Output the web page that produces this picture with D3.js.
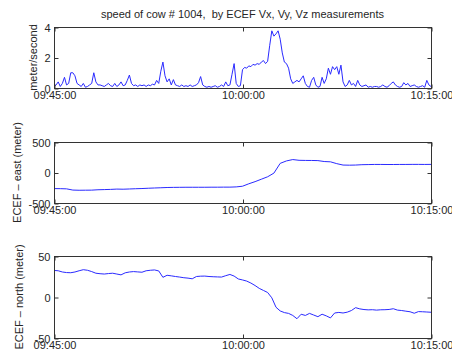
<!DOCTYPE html>
<html><head><meta charset="utf-8">
<script src="https://cdn.jsdelivr.net/npm/d3@7"></script>
<style>body{margin:0;background:#fff}svg{display:block}text{font-family:"Liberation Sans",Arial,sans-serif}</style>
</head><body><svg id="c" width="452" height="356"></svg>
<script>
const chartTitle = "speed of cow # 1004,  by ECEF Vx, Vy, Vz measurements";
const timeTickLabels = ["09:45:00", "10:00:00", "10:15:00"];
const timeTickSeconds = [0, 900, 1800];

// speed (m/s), one sample every 10 s
const speedStep = 10;
const speed = [
  0.1,0.2,0.4,0.1,0.3,0.7,0.2,0.3,1.0,1.0,
  0.8,0.3,0.2,0.1,0.3,0.05,0.1,0.2,0.3,1.0,
  0.4,0.2,0.2,0.15,0.1,0.2,0.3,0.15,0.1,0.3,
  0.1,0.2,0.4,0.15,0.2,0.5,0.85,0.3,0.15,0.2,
  0.1,0.2,0.15,0.2,0.1,0.2,0.15,0.25,0.2,0.5,
  0.3,1.1,1.7,0.8,0.4,0.6,0.2,0.55,0.2,0.15,
  0.1,0.2,0.1,0.15,0.1,0.2,0.1,0.15,0.2,0.35,
  0.75,0.2,0.1,0.05,0.1,0.05,0.1,0.15,0.05,0.1,
  0.2,0.1,0.4,0.15,0.2,0.9,1.6,0.3,0.1,0.15,
  1.2,1.35,1.3,1.45,1.4,1.55,1.5,1.6,1.55,1.7,
  1.8,1.6,1.75,2.8,3.75,3.4,3.55,3.75,3.2,2.3,
  1.7,1.6,1.3,0.6,0.3,0.4,0.5,0.4,0.6,0.8,
  0.3,0.1,0.05,0.5,0.7,0.2,0.05,0.1,0.7,0.3,
  0.6,1.3,0.9,1.4,1.2,1.4,0.9,1.5,0.4,0.1,
  0.2,0.5,0.2,0.3,0.1,0.5,0.2,0.1,0.15,0.2,
  0.05,0.1,0.05,0.1,0.1,0.05,0.1,0.2,0.1,0.05,
  0.15,0.3,0.4,0.2,0.1,0.05,0.1,0.35,0.2,0.3,
  0.1,0.15,0.2,0.1,0.05,0.1,0.15,0.05,0.5,0.2,
  0.1
];
const speedTicks = [0, 2, 4];

// ECEF east (m), one sample every 30 s
const eastStep = 30;
const east = [
  -264,-265,-268,-288,-291,-290,-289,-283,-280,-277,
  -272,-274,-270,-266,-263,-258,-254,-250,-246,-244,
  -243,-242,-242,-242,-242,-241,-241,-240,-240,-236,
  -225,-185,-150,-110,-70,-10,150,190,212,200,
  198,197,195,180,175,145,122,120,122,128,
  130,132,132,131,131,132,132,133,133,132,
  133
];
const eastTicks = [-500, 0, 500];

// ECEF north (m), one sample every 20 s
const northStep = 20;
const north = [
  32.4,32.0,30.5,29.8,29.6,30.5,32.0,33.3,32.6,31.0,
  29.0,28.4,28.0,28.6,29.0,28.0,27.0,29.5,30.5,31.0,
  30.6,30.2,32.0,32.6,33.0,31.8,24.0,26.5,25.8,25.0,
  24.3,23.5,23.0,22.2,25.0,25.4,25.5,25.0,24.7,24.5,
  24.3,26.0,27.5,25.5,22.0,20.8,19.4,17.0,14.0,10.5,
  8.0,5.5,-1.0,-12.5,-17.0,-19.0,-20.0,-22.5,-26.5,-21.0,
  -22.5,-20.0,-22.0,-24.0,-21.0,-23.0,-25.5,-19.5,-18.8,-19.5,
  -18.5,-16.5,-13.0,-14.5,-15.3,-15.7,-15.5,-16.0,-15.6,-15.5,
  -15.2,-14.3,-16.0,-16.5,-17.3,-18.0,-19.8,-17.8,-18.0,-18.3,
  -18.6
];
const northTicks = [-50, 0, 50];

const svg = d3.select("#c");
const left = 54, right = 431;
const x = d3.scaleLinear().domain([0, 1800]).range([left, right]);
const ink = "#262626", axisCol = "#333";

svg.append("text").attr("x", (left + right) / 2).attr("y", 18)
  .attr("text-anchor", "middle").attr("font-size", 11).attr("fill", ink)
  .style("white-space", "pre").attr("xml:space", "preserve")
  .text(chartTitle);

const panels = [
  {data: speed, step: speedStep, ticks: speedTicks, dom: [0, 4], top: 27, bottom: 88, label: "meter/second", labelX: 37},
  {data: east, step: eastStep, ticks: eastTicks, dom: [-500, 500], top: 142, bottom: 203, label: "ECEF \u2013 east (meter)", labelX: 21},
  {data: north, step: northStep, ticks: northTicks, dom: [-50, 50], top: 256, bottom: 338, label: "ECEF \u2013 north (meter)", labelX: 22.5}
];

panels.forEach(p => {
  const y = d3.scaleLinear().domain(p.dom).range([p.bottom, p.top]);
  const g = svg.append("g");

  const line = d3.line().x((d, i) => x(i * p.step)).y(d => y(d));
  g.append("path").datum(p.data).attr("d", line)
    .attr("fill", "none").attr("stroke", "#2a2aff").attr("stroke-width", 1)
    .attr("stroke-linejoin", "round");

  g.append("rect").attr("x", left + 0.5).attr("y", p.top + 0.5)
    .attr("width", right - left).attr("height", p.bottom - p.top)
    .attr("fill", "none").attr("stroke", axisCol).attr("stroke-width", 1);

  const yl = g.append("g").attr("transform", `translate(${left + 0.5},0.5)`)
    .call(d3.axisLeft(y).tickValues(p.ticks).tickSize(-4).tickPadding(4).tickFormat(d3.format("d")));
  const yr = g.append("g").attr("transform", `translate(${right + 0.5},0.5)`)
    .call(d3.axisRight(y).tickValues(p.ticks).tickSize(-4).tickFormat(""));
  const xb = g.append("g").attr("transform", `translate(0.5,${p.bottom + 0.5})`)
    .call(d3.axisBottom(x).tickValues(timeTickSeconds).tickSize(-4).tickPadding(3)
      .tickFormat((d, i) => timeTickLabels[i]));
  const xt = g.append("g").attr("transform", `translate(0.5,${p.top + 0.5})`)
    .call(d3.axisTop(x).tickValues(timeTickSeconds).tickSize(-4).tickFormat(""));
  [yl, yr, xb, xt].forEach(a => {
    a.select(".domain").remove();
    a.selectAll("line").attr("stroke", axisCol);
    a.selectAll("text").attr("font-size", 11).attr("fill", ink)
      .attr("font-family", "'Liberation Sans', Arial, sans-serif");
  });
  yl.selectAll("text").text(d => String(d).replace("\u2212", "-"));

  svg.append("text")
    .attr("transform", `translate(${p.labelX},${(p.top + p.bottom) / 2}) rotate(-90)`)
    .attr("text-anchor", "middle").attr("font-size", 11).attr("fill", ink)
    .text(p.label);
});
</script></body></html>
